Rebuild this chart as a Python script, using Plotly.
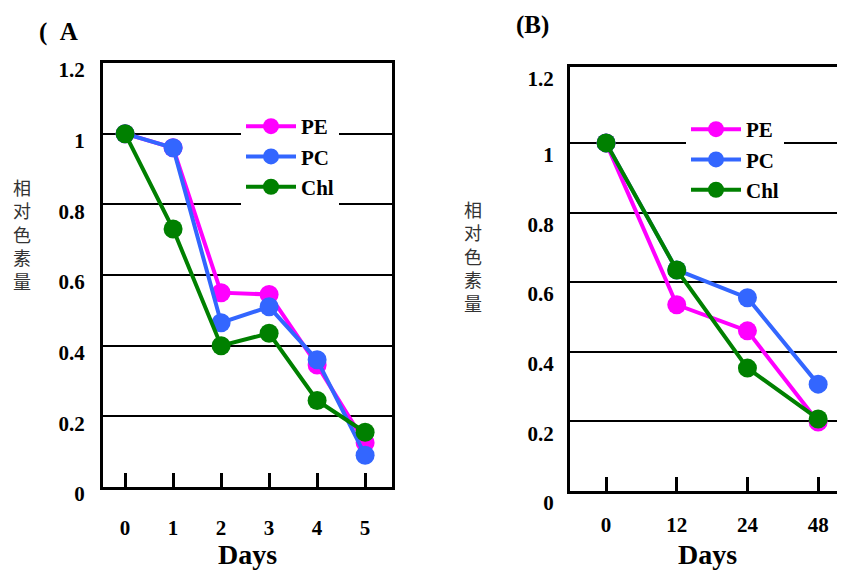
import plotly.graph_objects as go

# ---------------- data ----------------
days_A = [0, 1, 2, 3, 4, 5]
pe_A = [1.0, 0.96, 0.55, 0.545, 0.345, 0.125]
pc_A = [1.0, 0.96, 0.465, 0.51, 0.36, 0.09]
chl_A = [1.0, 0.73, 0.40, 0.435, 0.245, 0.155]

days_B = ["0", "12", "24", "48"]
pe_B = [1.0, 0.535, 0.46, 0.198]
pc_B = [1.0, 0.635, 0.555, 0.307]
chl_B = [1.0, 0.635, 0.353, 0.207]

y_ticks = [0, 0.2, 0.4, 0.6, 0.8, 1.0, 1.2]
y_ticktext = ["0", "0.2", "0.4", "0.6", "0.8", "1", "1.2"]

series_names = ["PE", "PC", "Chl"]
colors = ["#FF00FF", "#3366FF", "#008000"]

SERIF = "Liberation Serif"
# the page body adds an 8px margin; size the figure so it fits the 845x570 window
OFF = 8
W, H = 845 - OFF, 570 - OFF

fig = go.Figure()

for name, ys, col in zip(series_names, [pe_A, pc_A, chl_A], colors):
    fig.add_trace(go.Scatter(
        x=days_A, y=ys, name=name, mode="lines+markers",
        line=dict(color=col, width=4),
        marker=dict(color=col, size=19),
        xaxis="x", yaxis="y", legend="legend",
    ))

for name, ys, col in zip(series_names, [pe_B, pc_B, chl_B], colors):
    fig.add_trace(go.Scatter(
        x=days_B, y=ys, name=name, mode="lines+markers",
        line=dict(color=col, width=4),
        marker=dict(color=col, size=19),
        xaxis="x2", yaxis="y2", legend="legend2",
    ))

tickfont = dict(family=SERIF, size=21, color="black", weight="bold")
title_font = dict(family=SERIF, size=28, color="black", weight="bold")

def px_x(p):
    return (p - OFF) / W

def px_y(p):
    return 1 - (p - OFF) / H

common_x = dict(
    showgrid=False, zeroline=False, showline=True, linecolor="black", linewidth=3,
    mirror=True, ticks="inside", ticklen=14, tickwidth=3, tickcolor="black",
    tickfont=tickfont, automargin=False,
)
common_y = dict(
    showgrid=True, gridcolor="black", gridwidth=2, zeroline=False,
    showline=True, linecolor="black", linewidth=3, ticks="",
    tickfont=tickfont, automargin=False,
)

legend_font = dict(family=SERIF, size=21, color="black", weight="bold")

fig.update_layout(
    template="none",
    width=W, height=H,
    margin=dict(l=0, r=0, t=0, b=0),
    paper_bgcolor="white", plot_bgcolor="white",
    showlegend=True,
    xaxis=dict(**common_x, domain=[px_x(103), px_x(392)], anchor="y",
               range=[-0.46, 5.56], tickvals=days_A, ticklabelstandoff=20,
               title=dict(text="Days", font=title_font, standoff=7)),
    yaxis=dict(**common_y, domain=[px_y(487), px_y(63)], anchor="x",
               range=[0, 1.2], tickvals=y_ticks, ticktext=y_ticktext,
               mirror=True, ticklabelshift=7, ticklabelstandoff=11),
    xaxis2=dict(**common_x, domain=[px_x(570), 1.0], anchor="y2",
                type="category", range=[-0.51, 3.38], ticklabelstandoff=13,
                title=dict(text="Days", font=title_font, standoff=14)),
    yaxis2=dict(**common_y, domain=[px_y(491), px_y(67)], anchor="x2",
                range=[0, 1.218], tickvals=[0, 0.2, 0.4, 0.6, 0.8, 1.0, 1.218],
                ticktext=y_ticktext, mirror=False, ticklabelshift=12,
                ticklabelstandoff=9),
    legend=dict(x=px_x(241), y=px_y(106), xanchor="left", yanchor="top",
                bgcolor="white", borderwidth=0, itemwidth=50, font=legend_font),
    legend2=dict(x=px_x(686), y=px_y(109), xanchor="left", yanchor="top",
                 bgcolor="white", borderwidth=0, itemwidth=50, font=legend_font),
    annotations=[
        dict(text="(\u2002A", x=px_x(37), y=px_y(32), xref="paper", yref="paper",
             xanchor="left", yanchor="middle", showarrow=False,
             font=dict(family=SERIF, size=25, color="black", weight="bold")),
        dict(text="(B)", x=px_x(514), y=px_y(25), xref="paper", yref="paper",
             xanchor="left", yanchor="middle", showarrow=False,
             font=dict(family=SERIF, size=25, color="black", weight="bold")),
        dict(text="相<br>对<br>色<br>素<br>量", x=px_x(22), y=px_y(234),
             xref="paper", yref="paper", xanchor="center", yanchor="middle",
             showarrow=False,
             font=dict(family="Noto Sans CJK SC", size=18, color="#333333")),
        dict(text="相<br>对<br>色<br>素<br>量", x=px_x(473), y=px_y(256),
             xref="paper", yref="paper", xanchor="center", yanchor="middle",
             showarrow=False,
             font=dict(family="Noto Sans CJK SC", size=18, color="#333333")),
    ],
)

fig.write_html("out.html")
